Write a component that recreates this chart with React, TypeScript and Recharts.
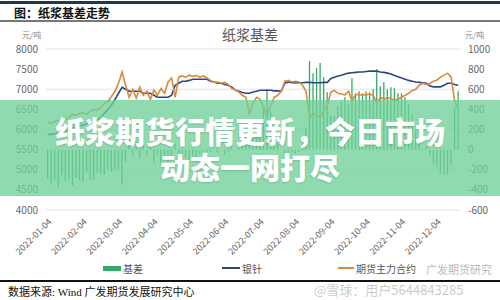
import { ComposedChart, Bar, Line, XAxis, YAxis, CartesianGrid } from "recharts";

// categories
const MONTHS = ["01", "02", "03", "04", "05", "06", "07", "08", "09", "10", "11", "12"];
const DAYS = ["04", "07", "09", "12", "14", "17", "19", "22", "24", "27"];
const DEC_DAYS = ["04", "07", "09", "12", "14", "17", "19"];

const DATES: string[] = [];
MONTHS.forEach((m) => {
  (m === "12" ? DEC_DAYS : DAYS).forEach((d) => DATES.push(`2022-${m}-${d}`));
});
const X_TICKS = MONTHS.map((m) => `2022-${m}-04`);

// 银针 spot price, 元/吨
const SPOT = [
  5880, 5880, 5900, 5900, 5950, 5950, 6000, 6050, 6050, 6100,
  6100, 6150, 6150, 6200, 6250, 6300, 6400, 6500, 6600, 6750,
  6900, 7050, 7000, 6950, 6950, 6950, 6950, 6900, 6900, 6900,
  6850, 6800, 6800, 6800, 6800, 6850, 7100, 7150, 7200, 7200,
  7220, 7250, 7250, 7250, 7250, 7250, 7200, 7180, 7150, 7150,
  7120, 7100, 7050, 6980, 6950, 6920, 6900, 6900, 6930, 6950,
  6975, 6975, 6975, 6975, 6960, 6960, 6950, 7150, 7180, 7160,
  7160, 7160, 7160, 7170, 7170, 7160, 7160, 7160, 7170, 7170,
  7270, 7300, 7330, 7350, 7380, 7400, 7410, 7420, 7430, 7430,
  7440, 7450, 7450, 7450, 7430, 7420, 7400, 7380, 7340, 7310,
  7280, 7250, 7220, 7200, 7180, 7170, 7160, 7150, 7080, 7060,
  7060, 7060, 7100, 7150, 7150, 7120, 7100,
];

// 期货主力合约, 元/吨
const FUTURES = [
  6170, 6150, 6200, 6230, 6200, 6250, 6300, 6380, 6350, 6400,
  6420, 6380, 6450, 6500, 6480, 6550, 6650, 6700, 6820, 6950,
  7150, 7430, 7100, 6800, 7000, 6780, 7050, 6850, 6950, 6750,
  6980, 6850, 7020, 6900, 7180, 7280, 6800, 7300, 7330, 7300,
  7350, 7320, 7340, 7300, 7330, 7280, 7220, 7170, 7180, 7150,
  7170, 7120, 7020, 6980, 6930, 6850, 6800, 6400, 6650, 6800,
  6750, 6550, 6320, 6600, 6800, 6850, 6950, 7200, 7220, 7180,
  7200, 7180, 7100, 6950, 6280, 6400, 6350, 6300, 6450, 6600,
  6930, 6970, 6900, 6880, 6860, 6950, 6700, 6880, 6850, 6870,
  6860, 6880, 6850, 6650, 6800, 6750, 6800, 6760, 6730, 6750,
  6800, 6850, 6900, 6970, 7000, 7100, 7150, 7120, 7140, 7200,
  7230, 7300, 7350, 7400, 7300, 6700, 6520,
];

// 基差, 元/吨 (right axis)
const BASIS = [
  -290, -350, -300, -380, -250, -320, -300, -360, -280, -300,
  -320, -230, -300, -300, -230, -250, -250, -200, -220, -200,
  -200, -350, -120, 60, -60, 80, -90, 40, -50, 60,
  -130, -50, -150, -100, -120, -100, 60, -80, -100, -80,
  -100, -70, -90, -50, -80, -30, -20, 10, -30, 0,
  -50, -20, 30, 0, 20, 70, 100, 300, 250, 150,
  220, 420, 600, 380, 160, 110, 0, -50, -40, -20,
  -40, -20, 60, 220, 880, 760, 810, 860, 720, 570,
  340, 330, 430, 470, 520, 450, 710, 540, 580, 560,
  580, 570, 600, 800, 630, 670, 600, 620, 610, 560,
  560, 520, 450, 350, 180, 70, 10, 30, -60, -140,
  -170, -240, -250, -250, -150, 420, 580,
];

const LEFT_TICKS = [4000, 4500, 5000, 5500, 6000, 6500, 7000, 7500, 8000];
const RIGHT_TICKS = [-600, -400, -200, 0, 200, 400, 600, 800, 1000];

const data = DATES.map((date, i) => ({
  date,
  spot: SPOT[i],
  futures: FUTURES[i],
  basis: BASIS[i],
}));

const GREEN = "#38a866";
const BLUE = "#2a4a7f";
const ORANGE = "#d88a3e";
const FONT = '"Noto Sans CJK SC", "Noto Sans", sans-serif';
const SERIF = '"Liberation Serif", "Noto Sans CJK SC", serif';
const TICK = { fontSize: 10, fill: "#666", fontFamily: FONT };

export default function App() {
  return (
    <div
      style={{
        position: "absolute",
        left: 0,
        top: 0,
        width: 500,
        height: 300,
        background: "#fff",
        overflow: "hidden",
        fontFamily: FONT,
      }}
    >
      {/* header */}
      <div style={{ position: "absolute", left: 0, top: 1, width: 500, height: 3, background: "#1d3a4c" }} />
      <div style={{ position: "absolute", left: 14, top: 4, fontSize: 12, fontWeight: 700, color: "#111", whiteSpace: "nowrap" }}>
        图：纸浆基差走势
      </div>
      <div style={{ position: "absolute", left: 0, top: 20, width: 500, height: 2, background: "#777" }} />

      <div style={{ position: "absolute", left: 0, top: 24, width: 500, textAlign: "center", fontSize: 14, color: "#555" }}>
        纸浆基差
      </div>
      <div style={{ position: "absolute", left: 22, top: 29, fontSize: 8, color: "#888" }}>元/吨</div>
      <div style={{ position: "absolute", left: 465, top: 29, fontSize: 8, color: "#888" }}>元/吨</div>

      <div style={{ position: "absolute", left: 0, top: 0 }}>
        <ComposedChart
          width={500}
          height={300}
          data={data}
          margin={{ top: 49, right: 0, left: 6, bottom: 30 }}
          barGap={0}
          barCategoryGap={0}
        >
          <CartesianGrid vertical={false} stroke="#e3e3e3" yAxisId="left" />
          <XAxis
            dataKey="date"
            ticks={X_TICKS}
            interval={0}
            angle={-45}
            textAnchor="end"
            height={60}
            tick={{ ...TICK, fontSize: 9 }}
            tickLine={false}
            axisLine={false}
          />
          <YAxis
            yAxisId="left"
            domain={[4000, 8000]}
            ticks={LEFT_TICKS}
            width={40}
            tick={TICK}
            tickLine={false}
            axisLine={false}
          />
          <YAxis
            yAxisId="right"
            orientation="right"
            domain={[-600, 1000]}
            ticks={RIGHT_TICKS}
            width={40}
            tick={TICK}
            tickLine={false}
            axisLine={false}
          />
          <Bar yAxisId="right" dataKey="basis" fill={GREEN} barSize={1.3} isAnimationActive={false} />
          <Line yAxisId="left" dataKey="spot" stroke={BLUE} strokeWidth={1.6} dot={false} isAnimationActive={false} />
          <Line yAxisId="left" dataKey="futures" stroke={ORANGE} strokeWidth={1.6} dot={false} isAnimationActive={false} />
        </ComposedChart>
      </div>

      {/* legend */}
      <div style={{ position: "absolute", left: 0, top: 260, width: 500, height: 16, fontSize: 10, color: "#555" }}>
        <div style={{ position: "absolute", left: 103, top: 6, width: 18, height: 5, background: GREEN }} />
        <div style={{ position: "absolute", left: 123, top: 1 }}>基差</div>
        <div style={{ position: "absolute", left: 222, top: 7, width: 18, height: 2, background: BLUE }} />
        <div style={{ position: "absolute", left: 242, top: 1 }}>银针</div>
        <div style={{ position: "absolute", left: 338, top: 7, width: 16, height: 2, background: ORANGE }} />
        <div style={{ position: "absolute", left: 356, top: 1 }}>期货主力合约</div>
      </div>

      {/* footer */}
      <div style={{ position: "absolute", left: 0, top: 280, width: 500, height: 2, background: "#111" }} />
      <div style={{ position: "absolute", left: 8, top: 283, fontSize: 11, color: "#111", whiteSpace: "nowrap", fontFamily: SERIF }}>
        数据来源: Wind 广发期货发展研究中心
      </div>

      {/* watermark */}
      <div style={{ position: "absolute", left: 426, top: 262, fontSize: 11, lineHeight: "14px", color: "rgba(120,120,120,0.55)", whiteSpace: "nowrap" }}>
        广发期货研究
      </div>
      <div style={{ position: "absolute", left: 314, top: 281, fontSize: 13, lineHeight: "17px", color: "rgba(150,150,150,0.5)", whiteSpace: "nowrap" }}>
        @雪球：用户5644843285
      </div>

      {/* banner overlay */}
      <div
        style={{
          position: "absolute",
          left: 0,
          top: 100,
          width: 500,
          height: 96,
          background: "rgba(112, 208, 152, 0.78)",
          color: "#fff",
          fontWeight: 900,
          fontSize: 30,
          lineHeight: "36px",
          textAlign: "center",
          textShadow: "0 1px 2px rgba(0,0,0,0.15)",
        }}
      >
        <div style={{ paddingTop: 12 }}>纸浆期货行情更新，今日市场</div>
        <div>动态一网打尽</div>
      </div>
    </div>
  );
}
